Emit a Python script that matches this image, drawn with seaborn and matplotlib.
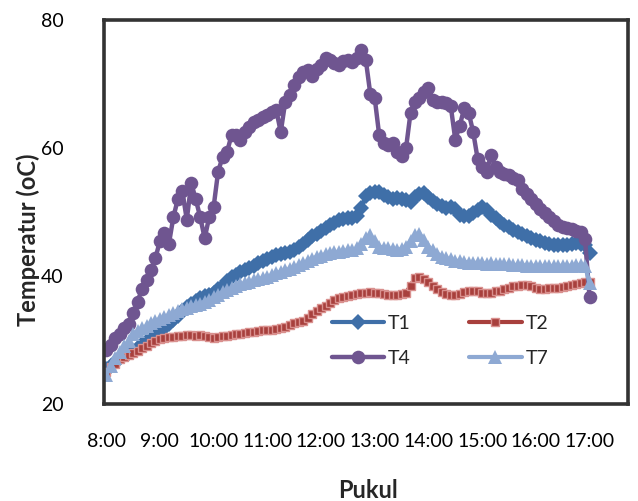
import numpy as np
import pandas as pd
import matplotlib
matplotlib.use("Agg")
import matplotlib.pyplot as plt
import seaborn as sns

# ---------------- data (5-minute readings, 08:00 - 17:00) ----------------
times = pd.date_range("2020-01-01 08:00", "2020-01-01 17:00", freq="5min").strftime("%H:%M").tolist()
tick_labels = ["8:00", "9:00", "10:00", "11:00", "12:00", "13:00", "14:00", "15:00", "16:00", "17:00"]

T1 = [25.5, 26.0, 26.6, 27.2, 27.6, 28.0, 28.3, 28.8, 29.3, 29.8,
      30.2, 30.6, 31.2, 31.8, 32.5, 33.2, 33.8, 34.5, 35.2, 35.7,
      36.1, 36.6, 36.8, 37.0, 37.4, 37.9, 38.5, 39.2, 39.8, 40.2,
      40.6, 41.0, 41.3, 41.6, 42.0, 42.3, 42.6, 43.0, 43.3, 43.5,
      43.6, 43.7, 44.1, 44.6, 45.0, 45.6, 46.2, 46.6, 47.0, 47.5,
      47.9, 48.3, 48.7, 48.9, 49.0, 49.1, 49.3, 50.6, 52.5, 53.0,
      53.1, 53.2, 52.6, 52.3, 52.0, 52.2, 52.0, 51.8, 51.6, 52.3,
      52.8, 53.0, 52.3, 51.7, 51.3, 50.9, 50.6, 50.8, 50.5, 49.5,
      49.3, 49.3, 49.9, 50.3, 50.8, 50.3, 49.5, 49.0, 48.5, 48.0,
      47.6, 47.2, 46.8, 46.5, 46.2, 45.9, 45.6, 45.4, 45.2, 45.0,
      44.9, 44.8, 44.8, 44.9, 45.0, 45.1, 45.0, 44.8, 43.6]

T2 = [25.0, 25.8, 26.3, 27.0, 27.3, 27.6, 28.0, 28.3, 28.7, 29.1,
      29.5, 29.9, 30.1, 30.3, 30.4, 30.5, 30.6, 30.7, 30.8, 30.8,
      30.7, 30.8, 30.6, 30.4, 30.3, 30.4, 30.6, 30.7, 30.8, 30.9,
      31.0, 31.1, 31.2, 31.3, 31.4, 31.5, 31.5, 31.6, 31.7, 31.8,
      32.0, 32.3, 32.6, 32.8, 33.0, 33.4, 34.0, 34.6, 35.0, 35.3,
      35.8, 36.3, 36.6, 36.7, 36.8, 37.0, 37.2, 37.3, 37.4, 37.5,
      37.4, 37.3, 37.2, 37.1, 37.0, 37.0, 37.2, 37.4, 38.5, 39.7,
      39.8, 39.6, 39.0, 38.5, 37.9, 37.5, 37.2, 37.0, 37.0, 37.2,
      37.5, 37.7, 37.6, 37.6, 37.4, 37.4, 37.4, 37.6, 37.7, 37.9,
      38.2, 38.4, 38.5, 38.6, 38.6, 38.4, 38.2, 38.0, 38.0, 38.1,
      38.2, 38.2, 38.3, 38.4, 38.6, 38.8, 38.9, 39.0, 39.0]

T4 = [28.4, 29.2, 30.3, 31.0, 31.8, 32.5, 34.2, 36.0, 38.0, 39.3,
      41.0, 42.8, 45.5, 46.7, 45.0, 49.2, 52.0, 53.3, 48.8, 54.5,
      52.0, 49.2, 45.9, 49.2, 50.8, 56.3, 58.6, 59.4, 62.0, 62.0,
      61.3, 62.5, 63.3, 64.0, 64.3, 64.8, 65.2, 65.6, 65.9, 62.5,
      67.2, 68.3, 69.8, 71.1, 71.8, 72.2, 71.3, 72.3, 73.0, 74.0,
      73.8, 73.3, 73.0, 73.6, 73.7, 73.4, 74.0, 75.3, 73.8, 68.5,
      67.8, 62.0, 60.8, 60.5, 60.8, 59.4, 58.8, 60.0, 65.5, 67.2,
      67.8, 68.8, 69.4, 67.5, 67.2, 67.2, 67.0, 66.5, 61.3, 63.5,
      66.2, 65.5, 62.5, 58.3, 57.0, 56.3, 58.9, 57.0, 56.3, 56.0,
      55.8, 55.3, 55.0, 53.6, 52.8, 52.0, 51.2, 50.5, 49.8, 49.2,
      48.6, 48.0, 47.7, 47.5, 47.3, 47.1, 46.8, 45.8, 36.7]

T7 = [24.5, 26.0, 27.2, 28.2, 29.0, 29.8, 31.0, 31.4, 31.8, 32.2,
      32.6, 33.0, 33.3, 33.6, 33.9, 34.2, 34.5, 34.8, 35.0, 35.3,
      35.5, 35.7, 36.0, 36.3, 36.7, 37.1, 37.5, 37.8, 38.1, 38.4,
      38.7, 38.9, 39.1, 39.3, 39.5, 39.7, 39.9, 40.1, 40.4, 40.7,
      40.9, 41.1, 41.4, 41.7, 42.0, 42.3, 42.7, 43.0, 43.2, 43.4,
      43.6, 43.7, 43.8, 43.9, 44.0, 44.1, 44.3, 45.0, 46.0, 46.4,
      45.5, 44.6, 44.4, 44.3, 44.2, 44.1, 44.2, 44.6, 45.5, 46.4,
      46.6, 45.6, 44.6, 44.0, 43.5, 43.0, 42.8, 42.6, 42.4, 42.3,
      42.2, 42.1, 42.1, 42.0, 42.0, 41.9, 42.0, 41.9, 41.9, 41.8,
      41.8, 41.7, 41.7, 41.7, 41.6, 41.6, 41.6, 41.6, 41.5, 41.5,
      41.6, 41.6, 41.6, 41.6, 41.6, 41.7, 41.7, 41.6, 38.9]

series_names = ["T1", "T2", "T4", "T7"]
series_vals = [T1, T2, T4, T7]

# ---------------- styling ----------------
sns.set_theme(style="white")
plt.rcParams["font.family"] = ["Lato", "DejaVu Sans"]

colors = {"T1": "#3F6FA8", "T2": "#A8403D", "T4": "#6F5590", "T7": "#8EA9D3"}
styles = {
    "T1": dict(marker="D", markersize=8.0, linewidth=3.0, markeredgewidth=0),
    "T2": dict(marker="s", markersize=6.3, linewidth=3.0, markeredgewidth=1.0,
               markerfacecolor="#A8403D", markeredgecolor="#D9908E"),
    "T4": dict(marker="o", markersize=9.8, linewidth=3.2, markeredgewidth=0),
    "T7": dict(marker="^", markersize=10.0, linewidth=3.0, markeredgewidth=0),
}

fig = plt.figure(figsize=(6.38, 5.01), dpi=100)
ax = fig.add_axes([104 / 638, 1 - 404 / 501, 524 / 638, 384 / 501])

df = pd.DataFrame({"Waktu": times, **{n: v for n, v in zip(series_names, series_vals)}})
df["pos"] = np.arange(len(df))

for n in series_names:
    sns.lineplot(data=df, x="pos", y=n, ax=ax, color=colors[n], label=n,
                 estimator=None, sort=False, **styles[n])

ax.set_xlim(-0.5, 116.6)
ax.set_ylim(20, 80)
ax.set_yticks([20, 40, 60, 80])
hour_pos = [df.index[df["Waktu"] == f"{h:02d}:00"][0] for h in range(8, 18)]
ax.set_xticks(hour_pos)
ax.set_xticklabels(tick_labels)
ax.tick_params(axis="y", length=0, pad=29, labelsize=14, colors="black")
ax.tick_params(axis="x", length=0, pad=21, labelsize=14, colors="black")
ax.set_xlabel("")
ax.set_ylabel("")

for s in ax.spines.values():
    s.set_visible(True)
    s.set_color("#333333")
    s.set_linewidth(2.6)

h, l = ax.get_legend_handles_labels()
order = [0, 2, 1, 3]
ax.legend([h[i] for i in order], [l[i] for i in order], ncol=2, loc="center",
          bbox_to_anchor=(0.641, 0.164), frameon=False, fontsize=14,
          handlelength=2.7, handletextpad=0.2, columnspacing=3.0,
          labelspacing=0.95, borderpad=0)

fig.text(28 / 638, 1 - 240 / 501, "Temperatur (oC)", rotation=90, ha="center",
         va="center", fontsize=17, fontweight="bold")
fig.text(368 / 638, 1 - 490 / 501, "Pukul", ha="center", va="center",
         fontsize=17, fontweight="bold")

fig.savefig("out.png", dpi=100)
